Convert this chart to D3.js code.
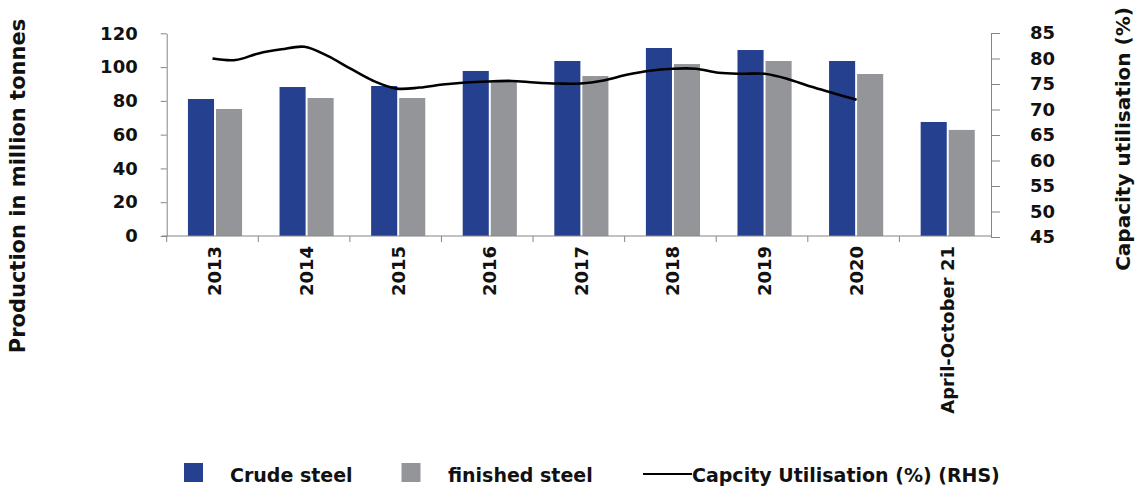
<!DOCTYPE html>
<html>
<head>
<meta charset="utf-8">
<script src="https://cdn.jsdelivr.net/npm/d3@7"></script>
<style>
  html, body { margin: 0; padding: 0; background: #ffffff; }
  svg { display: block; }
  text { font-family: "DejaVu Sans", sans-serif; font-weight: bold; fill: #111; }
</style>
</head>
<body>
<svg id="chart" width="1138" height="486"></svg>
<script>
// ---- data ----
const categories = ["2013", "2014", "2015", "2016", "2017", "2018", "2019", "2020", "April-October 21"];
const crudeSteel = [81.1, 88.2, 88.8, 97.7, 103.6, 111.3, 110.1, 103.6, 67.5];
const finishedSteel = [75.2, 81.7, 81.7, 91.8, 94.7, 101.8, 103.6, 95.9, 62.8];
const utilPeriods = [2013.00, 2013.25, 2013.50, 2013.75, 2014.00, 2014.25, 2014.50, 2014.75,
                     2015.00, 2015.25, 2015.50, 2015.75, 2016.00, 2016.25, 2016.50, 2016.75,
                     2017.00, 2017.25, 2017.50, 2017.75, 2018.00, 2018.25, 2018.50, 2018.75,
                     2019.00, 2019.25, 2019.50, 2019.75, 2020.00];
const utilValues = [80.0, 79.7, 81.0, 81.8, 82.3, 80.5, 78.0, 75.6,
                    74.1, 74.3, 74.9, 75.3, 75.5, 75.6, 75.3, 75.1,
                    75.1, 75.7, 76.8, 77.6, 78.0, 78.0, 77.2, 77.0,
                    77.0, 76.0, 74.5, 73.2, 71.9];
const leftTicks = [0, 20, 40, 60, 80, 100, 120];
const rightTicks = [45, 50, 55, 60, 65, 70, 75, 80, 85];
const seriesNames = ["Crude steel", "finished steel"];
const legendLineLabel = "Capcity Utilisation (%) (RHS)";
const leftTitle = "Production in million tonnes";
const rightTitle = "Capacity utilisation (%)";

// ---- styles ----
const colors = { "Crude steel": "#25408F", "finished steel": "#939598" };
const axisColor = "#858585";

const svg = d3.select("#chart");

const plotLeft = 166.7, plotRight = 991, plotTop = 33.3, plotBottom = 236;

const x = d3.scaleBand().domain(categories).range([plotLeft, plotRight]).padding(0);
const bw = x.bandwidth();
const x1 = d3.scaleBand().domain(seriesNames).range([bw * 0.232, bw * 0.823]).paddingInner(0.07);
const yL = d3.scaleLinear().domain([0, 120]).range([plotBottom, plotTop]);
const yR = d3.scaleLinear().domain([45, 85]).range([237, 33]);
const xLine = d3.scaleLinear().domain([2013, 2020])
  .range([x("2013") + bw / 2, x("2020") + bw / 2 + 3]);

// ---- bars ----
const rows = categories.map((c, i) => ({ cat: c, vals: [
  { key: "Crude steel", v: crudeSteel[i] },
  { key: "finished steel", v: finishedSteel[i] }
]}));

const groups = svg.append("g").selectAll("g").data(rows).join("g")
  .attr("transform", d => `translate(${x(d.cat)},0)`);
groups.selectAll("rect").data(d => d.vals).join("rect")
  .attr("x", d => x1(d.key))
  .attr("width", x1.bandwidth())
  .attr("y", d => yL(d.v))
  .attr("height", d => yL(0) - yL(d.v))
  .attr("fill", d => colors[d.key]);

// ---- left axis ----
const gL = svg.append("g").attr("transform", `translate(${plotLeft},0)`)
  .call(d3.axisLeft(yL).tickValues(leftTicks).tickSize(6).tickSizeOuter(0).tickPadding(23));
gL.select(".domain").attr("stroke", axisColor);
gL.selectAll(".tick line").attr("stroke", axisColor);
gL.selectAll(".tick text").style("font-size", "18px").style("font-family", "DejaVu Sans").style("font-weight", "bold").attr("fill", "#111");

// ---- right axis ----
const gR = svg.append("g").attr("transform", `translate(${plotRight},0)`)
  .call(d3.axisRight(yR).tickValues(rightTicks).tickSize(9).tickSizeOuter(0).tickPadding(30));
gR.select(".domain").attr("stroke", axisColor);
gR.selectAll(".tick line").attr("stroke", axisColor);
gR.selectAll(".tick text").style("font-size", "18px").style("font-family", "DejaVu Sans").style("font-weight", "bold").attr("fill", "#111");

// ---- x axis ----
const gX = svg.append("g").attr("transform", `translate(0,${plotBottom})`);
gX.append("line").attr("x1", 162).attr("x2", plotRight).attr("y1", 0).attr("y2", 0)
  .attr("stroke", axisColor);
gX.selectAll(".xtick").data(categories).join("line")
  .attr("class", "xtick")
  .attr("x1", d => x(d)).attr("x2", d => x(d))
  .attr("y1", 0).attr("y2", 6)
  .attr("stroke", axisColor);
gX.selectAll(".xlabel").data(categories).join("text")
  .attr("class", "xlabel")
  .attr("transform", d => `translate(${x(d) + bw / 2 + 2.5},10) rotate(-90)`)
  .attr("text-anchor", "end")
  .attr("dy", "0.36em")
  .style("font-size", "18px")
  .text(d => d);

// ---- line ----
const lineGen = d3.line()
  .x((d, i) => xLine(utilPeriods[i]))
  .y(d => yR(d))
  .curve(d3.curveCatmullRom.alpha(0.5));
svg.append("path").datum(utilValues)
  .attr("d", lineGen)
  .attr("fill", "none")
  .attr("stroke", "#000")
  .attr("stroke-width", 2.6)
  .attr("stroke-linejoin", "round");

// ---- axis titles ----
svg.append("text")
  .attr("transform", `translate(25,186) rotate(-90)`)
  .attr("text-anchor", "middle")
  .style("font-size", "21px")
  .text(leftTitle);
svg.append("text")
  .attr("transform", `translate(1130,139) rotate(-90)`)
  .attr("text-anchor", "middle")
  .style("font-size", "20px")
  .text(rightTitle);

// ---- legend ----
const leg = svg.append("g");
const legItems = [
  { name: seriesNames[0], sx: 184, tx: 230 },
  { name: seriesNames[1], sx: 401.5, tx: 448 }
];
leg.selectAll("rect").data(legItems).join("rect")
  .attr("x", d => d.sx).attr("y", 463).attr("width", 19).attr("height", 19)
  .attr("fill", d => colors[d.name]);
leg.selectAll("text.lt").data(legItems).join("text")
  .attr("class", "lt")
  .attr("x", d => d.tx).attr("y", 482)
  .style("font-size", "19px")
  .text(d => d.name);
leg.append("line").attr("x1", 643).attr("x2", 692).attr("y1", 474).attr("y2", 474)
  .attr("stroke", "#000").attr("stroke-width", 2);
leg.append("text").attr("x", 692).attr("y", 482)
  .style("font-size", "19px")
  .text(legendLineLabel);
</script>
</body>
</html>
